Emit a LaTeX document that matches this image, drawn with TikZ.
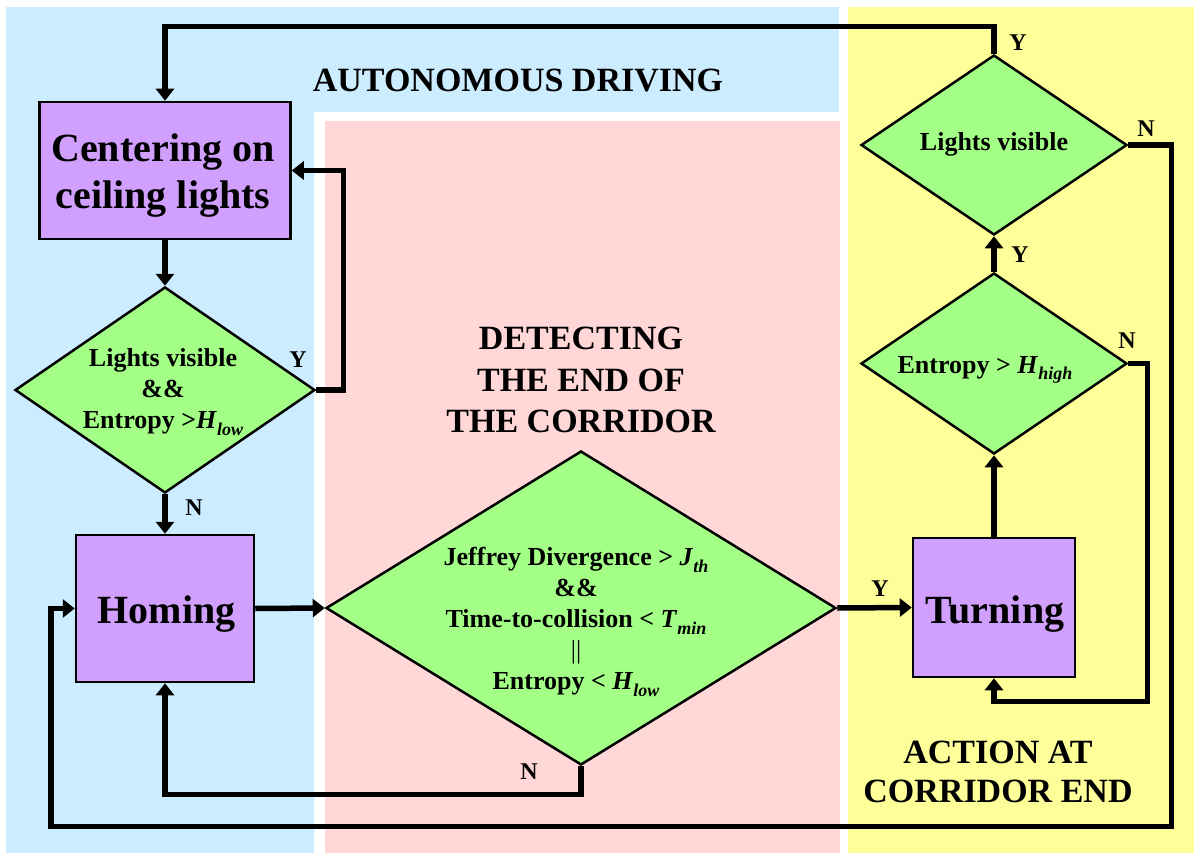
\documentclass[tikz,border=0pt]{standalone}
\usepackage{fontspec}
\setmainfont{Liberation Serif}
\usetikzlibrary{arrows.meta,shapes.geometric,calc}
\definecolor{bgblue}{RGB}{204,236,255}
\definecolor{bgpink}{RGB}{255,215,215}
\definecolor{bgyellow}{RGB}{255,255,153}
\definecolor{procfill}{RGB}{209,160,255}
\definecolor{decfill}{RGB}{163,255,133}
\newcommand{\fsz}[2]{\fontsize{#1}{#2}\selectfont\bfseries}
\newcommand{\Hsub}[2]{\textit{#1}\raisebox{-6.5pt}{\fontsize{18}{18}\selectfont\bfseries\itshape #2}}
\begin{document}
\begin{tikzpicture}[x=1pt,y=-1pt,
  proc/.style={draw, line width=2.5pt, fill=procfill, inner sep=0pt},
  ptext/.style={font=\fsz{40}{47}, align=center, inner sep=0pt},
  dec/.style={diamond, draw, line width=2.5pt, fill=decfill, inner sep=0pt},
  dtext/.style={font=\fsz{26}{31}, align=center, inner sep=0pt},
  lbl/.style={font=\fsz{24}{28}, inner sep=0pt},
  ttl/.style={font=\fsz{34}{41.5}, align=center, inner sep=0pt},
  conn/.style={line width=5.5pt, -{Triangle[width=18pt,length=12pt]}, line join=miter}]
\useasboundingbox (0,0) rectangle (1194,853);
% backgrounds
\fill[bgblue] (6,7) rectangle (839,112);
\fill[bgblue] (6,7) rectangle (314,853);
\fill[bgpink] (325,121) rectangle (840,853);
\fill[bgyellow] (848,7) rectangle (1194,853);
% titles
\node[ttl, anchor=base] (t1) at (518,92) {AUTONOMOUS DRIVING};
\node[ttl] (t2) at (581,380) {DETECTING\\THE END OF\\THE CORRIDOR};
\node[ttl, font=\fsz{34}{39}] (t3) at (998,772) {ACTION AT\\CORRIDOR END};
% nodes
\node[proc, minimum width=251pt, minimum height=137pt] (cent) at (165,170.5) {};
\node[ptext] (centt) at (163,176) {Centering on\\ceiling lights};
\node[dec, minimum width=300pt, minimum height=206pt] (d1) at (165,390) {};
\node[dtext] (d1t) at (163,392) {Lights visible\\\&\&\\Entropy >\Hsub{H}{low}};
\node[proc, minimum width=178pt, minimum height=147pt] (hom) at (165,608.5) {};
\node[ptext, anchor=base] (homt) at (166.5,623) {Homing};
\node[dec, minimum width=510pt, minimum height=314pt] (d2) at (581,608) {};
\node[dtext] (d2t) at (576,622) {Jeffrey Divergence > \Hsub{J}{th}\\\&\&\\Time-to-collision < \Hsub{T}{min}\\{\mdseries ||}\\Entropy < \Hsub{H}{low}};
\node[proc, minimum width=162pt, minimum height=139pt] (turn) at (994,607.5) {};
\node[ptext, anchor=base] (turnt) at (995,623) {Turning};
\node[dec, minimum width=266pt, minimum height=180pt] (lv) at (994,145) {};
\node[dtext] (lvt) at (994,144) {Lights visible};
\node[dec, minimum width=266pt, minimum height=181pt] (eh) at (994,363.5) {};
\node[dtext, anchor=base] (eht) at (985,373) {Entropy > \Hsub{H}{high}};
% labels
\node[lbl] (ly1) at (1018,43) {Y};
\node[lbl] (ln1) at (1146,129) {N};
\node[lbl] (ly2) at (1020,255) {Y};
\node[lbl] (ln2) at (1127,341) {N};
\node[lbl] (ly3) at (298,360) {Y};
\node[lbl] (ln3) at (194,508) {N};
\node[lbl] (ln4) at (529,772) {N};
\node[lbl] (ly4) at (880,589) {Y};
% connectors
\draw[conn] (lv.north) -- ++(0,-27) -| (cent.north);
\draw[conn] (cent.south) -- (d1.north);
\draw[conn] (d1.east) -- ++(27,0) |- (cent.east);
\draw[conn] (d1.south) -- (hom.north);
\draw[conn] (hom.east) -- (d2.west);
\draw[conn] (d2.south) -- ++(0,28) -| (hom.south);
\draw[conn] (d2.east) -- (turn.west);
\draw[conn] (turn.north) -- (eh.south);
\draw[conn] (eh.north) -- (lv.south);
\draw[conn] (eh.east) -- ++(19,0) |- ($(turn.south)+(0,23)$) -- (turn.south);
\draw[conn] (lv.east) -- ++(43,0) |- ($(hom.west)+(-24,218)$) |- (hom.west);
\end{tikzpicture}
\end{document}
